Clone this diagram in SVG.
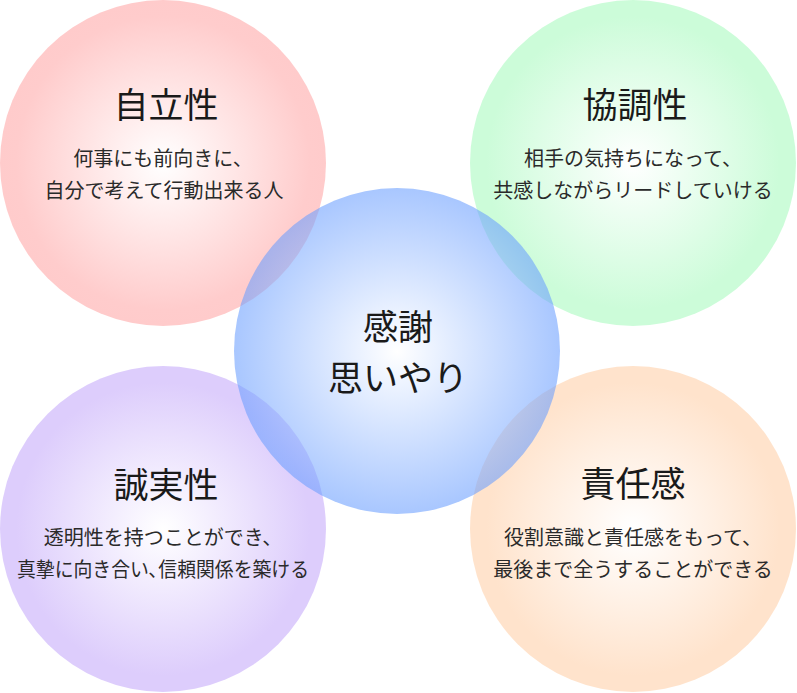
<svg xmlns="http://www.w3.org/2000/svg" width="797" height="693" viewBox="0 0 797 693">
<style>
text{font-family:"Noto Sans CJK JP","Noto Sans CJK SC",sans-serif;text-anchor:middle;fill:#1a1a1a}
.t{font-size:35px}
.d{font-size:20px;fill:#2a2a2a}
</style>
<defs>
<radialGradient id="gRed"><stop offset="0" stop-color="#ffffff"/><stop offset="0.9" stop-color="#ffcccc"/><stop offset="1" stop-color="#ffcbcb"/></radialGradient>
<radialGradient id="gGreen"><stop offset="0" stop-color="#ffffff"/><stop offset="0.9" stop-color="#ccfcd9"/><stop offset="1" stop-color="#ccfcd9"/></radialGradient>
<radialGradient id="gPurple"><stop offset="0" stop-color="#ffffff"/><stop offset="0.9" stop-color="#ddcdfc"/><stop offset="1" stop-color="#ddcdfc"/></radialGradient>
<radialGradient id="gOrange"><stop offset="0" stop-color="#ffffff"/><stop offset="0.9" stop-color="#ffe3cc"/><stop offset="1" stop-color="#ffe3cc"/></radialGradient>
<radialGradient id="gBlue"><stop offset="0" stop-color="#ffffff"/><stop offset="1" stop-color="#6a9eff"/></radialGradient>
</defs>
<rect width="797" height="693" fill="#ffffff"/>
<g id="node-jiritsu">
<circle cx="163" cy="163" r="163" fill="url(#gRed)"/>
<text class="t" x="166" y="118">自立性</text>
<text class="d" x="163" y="166">何事にも前向きに、</text>
<text class="d" x="164" y="198">自分で考えて行動出来る人</text>
</g>
<g id="node-kyouchou">
<circle cx="633" cy="163" r="163" fill="url(#gGreen)"/>
<text class="t" x="635" y="118">協調性</text>
<text class="d" x="633" y="166">相手の気持ちになって、</text>
<text class="d" x="633" y="198">共感しながらリードしていける</text>
</g>
<g id="node-seijitsu">
<circle cx="163" cy="529" r="163" fill="url(#gPurple)"/>
<text class="t" x="166" y="498">誠実性</text>
<text class="d" x="163" y="545">透明性を持つことができ、</text>
<text class="d" x="163" y="577" textLength="292" lengthAdjust="spacingAndGlyphs">真摯に向き合い､信頼関係を築ける</text>
</g>
<g id="node-sekinin">
<circle cx="633" cy="529" r="163" fill="url(#gOrange)"/>
<text class="t" x="633" y="497">責任感</text>
<text class="d" x="633" y="545">役割意識と責任感をもって、</text>
<text class="d" x="633" y="577">最後まで全うすることができる</text>
</g>
<g id="node-kansha">
<circle cx="397" cy="351" r="163" fill="url(#gBlue)" opacity="0.58"/>
<text class="t" x="398" y="340">感謝</text>
<text class="t" x="398" y="391">思いやり</text>
</g>
<g id="connectors"/>
</svg>
